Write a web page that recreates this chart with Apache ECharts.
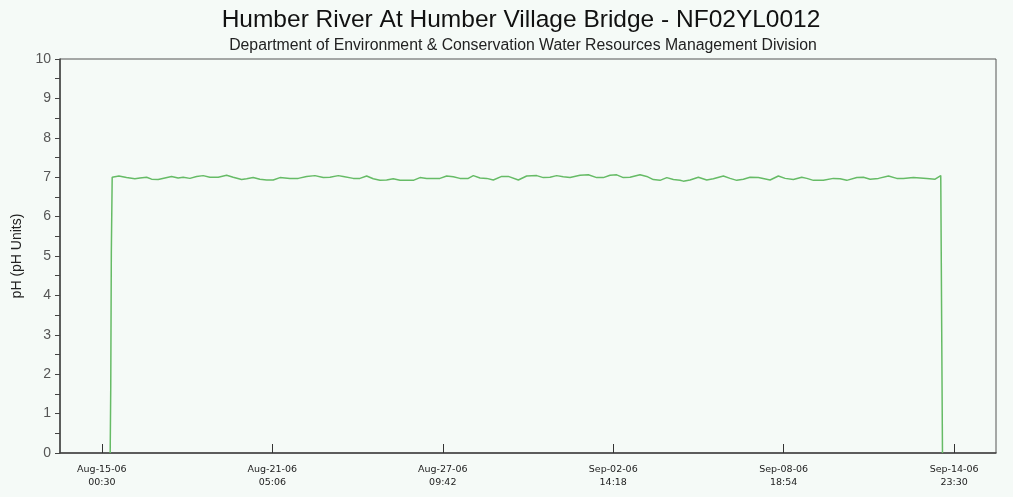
<!DOCTYPE html>
<html><head><meta charset="utf-8">
<script src="https://cdn.jsdelivr.net/npm/echarts@6/dist/echarts.min.js"></script>
<style>html,body{margin:0;padding:0;background:#f5faf7;}#c{width:1013px;height:497px;}</style>
</head><body><div id="c"></div><script>
const times = [
'2006-08-15 07:45','2006-08-15 08:15','2006-08-15 08:45','2006-08-15 09:30','2006-08-15 15:20','2006-08-15 22:00',
'2006-08-16 05:15','2006-08-16 09:40','2006-08-16 15:30','2006-08-16 19:50',
'2006-08-17 01:35','2006-08-17 07:25','2006-08-17 13:15','2006-08-17 19:00','2006-08-17 23:25',
'2006-08-18 05:15','2006-08-18 11:05','2006-08-18 16:50','2006-08-18 22:40',
'2006-08-19 05:55','2006-08-19 13:15','2006-08-19 19:00',
'2006-08-20 02:20','2006-08-20 06:40','2006-08-20 12:25','2006-08-20 18:15',
'2006-08-21 00:10','2006-08-21 05:55','2006-08-21 11:45','2006-08-21 20:25',
'2006-08-22 03:40','2006-08-22 11:00','2006-08-22 18:15',
'2006-08-23 01:30','2006-08-23 07:20','2006-08-23 14:35','2006-08-23 18:55',
'2006-08-24 03:40','2006-08-24 09:30','2006-08-24 15:20','2006-08-24 21:05',
'2006-08-25 02:55','2006-08-25 08:45','2006-08-25 14:30','2006-08-25 20:25',
'2006-08-26 08:00','2006-08-26 13:50','2006-08-26 19:40',
'2006-08-27 07:15','2006-08-27 13:05','2006-08-27 18:50',
'2006-08-28 00:40','2006-08-28 07:55','2006-08-28 12:20','2006-08-28 18:10',
'2006-08-29 00:00','2006-08-29 05:45','2006-08-29 13:05','2006-08-29 18:50',
'2006-08-30 03:35','2006-08-30 10:50','2006-08-30 19:35',
'2006-08-31 01:20','2006-08-31 07:10','2006-08-31 13:00','2006-08-31 18:45',
'2006-09-01 00:40','2006-09-01 09:20','2006-09-01 16:35','2006-09-01 23:55',
'2006-09-02 05:40','2006-09-02 11:30','2006-09-02 17:20','2006-09-02 23:05',
'2006-09-03 04:55','2006-09-03 13:40','2006-09-03 19:30',
'2006-09-04 01:15','2006-09-04 07:05','2006-09-04 13:00','2006-09-04 18:45',
'2006-09-05 00:35','2006-09-05 03:25','2006-09-05 09:15','2006-09-05 16:30','2006-09-05 23:50',
'2006-09-06 05:35','2006-09-06 14:20','2006-09-06 20:10',
'2006-09-07 02:00','2006-09-07 07:45','2006-09-07 13:35','2006-09-07 20:50',
'2006-09-08 07:05','2006-09-08 14:15','2006-09-08 20:10',
'2006-09-09 03:20','2006-09-09 10:40','2006-09-09 15:05','2006-09-09 20:50',
'2006-09-10 05:30','2006-09-10 14:15','2006-09-10 20:05',
'2006-09-11 01:55','2006-09-11 10:40','2006-09-11 16:25','2006-09-11 22:15',
'2006-09-12 05:30','2006-09-12 14:15','2006-09-12 21:30',
'2006-09-13 03:15','2006-09-13 12:00','2006-09-13 23:40',
'2006-09-14 06:55','2006-09-14 11:50','2006-09-14 12:35','2006-09-14 13:20'
];
const phValues = [
0.0,1.7,5.1,7.00,7.03,6.99,
6.96,6.98,7.00,6.95,
6.94,6.98,7.02,6.98,7.00,
6.97,7.02,7.04,7.00,
7.00,7.05,7.00,
6.94,6.96,6.99,6.95,
6.93,6.93,6.99,6.97,
6.97,7.02,7.04,
6.99,7.00,7.04,7.02,
6.97,6.97,7.03,6.96,
6.92,6.93,6.96,6.92,
6.92,6.99,6.97,
6.97,7.03,7.01,
6.97,6.97,7.04,6.98,
6.97,6.93,7.02,7.02,
6.93,7.03,7.04,
6.99,7.00,7.04,7.01,
6.99,7.05,7.06,6.99,
6.99,7.05,7.06,6.99,
7.00,7.06,7.02,
6.94,6.92,6.99,6.94,
6.92,6.90,6.93,7.00,6.93,
6.96,7.03,6.97,
6.92,6.95,7.00,6.99,
6.93,7.03,6.97,
6.94,7.00,6.97,6.92,
6.92,6.97,6.96,
6.92,6.99,7.00,6.95,
6.97,7.03,6.97,
6.97,6.99,6.97,
6.95,7.04,3.5,0.0
];
const tickTimes = ['2006-08-15 00:30','2006-08-21 05:06','2006-08-27 09:42','2006-09-02 14:18','2006-09-08 18:54','2006-09-14 23:30'];
const tickDateLabels = ['Aug-15-06','Aug-21-06','Aug-27-06','Sep-02-06','Sep-08-06','Sep-14-06'];
const tickClockLabels = ['00:30','05:06','09:42','14:18','18:54','23:30'];
const axisStart = '2006-08-13 12:00';
const axisEnd = '2006-09-16 12:00';
const titleText = 'Humber River At Humber Village Bridge - NF02YL0012';
const subtitleText = 'Department of Environment & Conservation Water Resources Management Division';
const yAxisName = 'pH (pH Units)';

function toMs(s){const p=s.split(' ');const d=p[0].split('-').map(Number);const t=p[1].split(':').map(Number);return Date.UTC(d[0],d[1]-1,d[2],t[0],t[1]);}
const data = times.map((t,i)=>[toMs(t), phValues[i]]);
const tickMs = tickTimes.map(toMs);
const bg = '#f5faf7';
const chart = echarts.init(document.getElementById('c'), null, {renderer:'canvas'});
chart.setOption({
  backgroundColor: bg,
  animation: false,
  title: [
    {text: titleText, left: 516, top: 3, textAlign: 'center',
     textStyle: {fontFamily: 'Liberation Sans', fontSize: 24.5, fontWeight: 'normal', color: '#111'}},
    {text: subtitleText, left: 518, top: 33, textAlign: 'center',
     textStyle: {fontFamily: 'Liberation Sans', fontSize: 15.8, fontWeight: 'normal', color: '#222'}}
  ],
  grid: {left: 60, right: 17, top: 59, bottom: 44, show: true, borderColor: '#555', borderWidth: 1, backgroundColor: bg, containLabel: false},
  xAxis: {
    type: 'value', min: toMs(axisStart), max: toMs(axisEnd),
    axisLine: {show: true, lineStyle: {color: '#444', width: 1.5}},
    splitLine: {show: false},
    axisTick: {show: true, inside: true, length: 9, customValues: tickMs, lineStyle: {color: '#333', width: 1}},
    axisLabel: {
      customValues: tickMs,
      formatter: function(v){const i = tickMs.indexOf(v); return i < 0 ? '' : tickDateLabels[i] + '\n' + tickClockLabels[i];},
      fontFamily: 'DejaVu Sans', fontSize: 9.5, color: '#222', margin: 10, lineHeight: 13
    }
  },
  yAxis: {
    type: 'value', min: 0, max: 10, interval: 1,
    name: yAxisName, nameLocation: 'middle', nameGap: 29,
    nameTextStyle: {fontFamily: 'Liberation Sans', fontSize: 14, color: '#222'},
    axisLine: {show: true, lineStyle: {color: '#444', width: 1.5}},
    axisTick: {show: true, length: 5, lineStyle: {color: '#444'}},
    minorTick: {show: true, splitNumber: 2, length: 5, lineStyle: {color: '#444'}},
    splitLine: {show: false},
    minorSplitLine: {show: false},
    axisLabel: {fontFamily: 'Liberation Sans', fontSize: 14, color: '#555', margin: 9}
  },
  series: [{
    type: 'line', data: data, showSymbol: false, symbol: 'none',
    lineStyle: {color: '#66bb66', width: 1.5}
  }]
});
</script></body></html>
